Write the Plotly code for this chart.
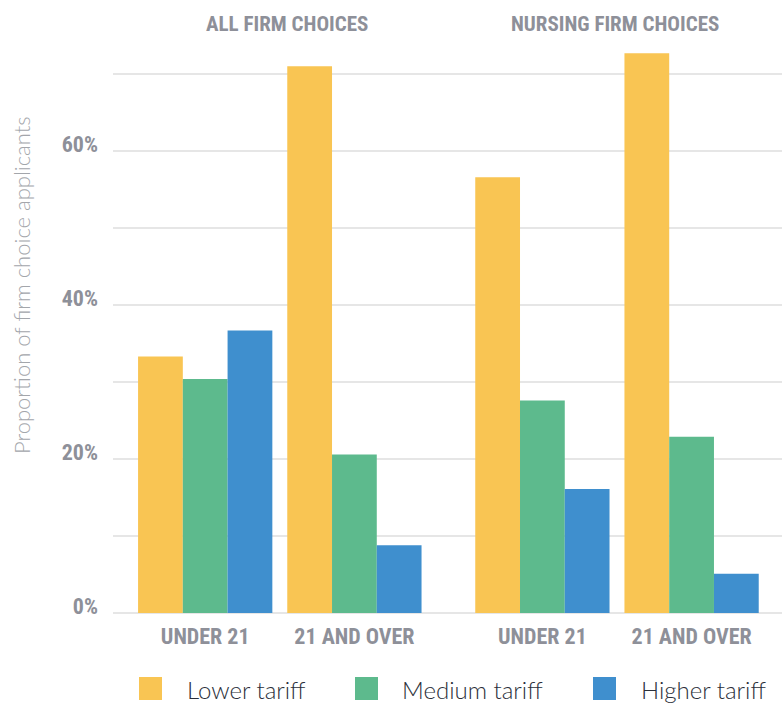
import plotly.graph_objects as go

# Data: share of firm-choice applicants by tariff group
panels = ["ALL FIRM CHOICES", "NURSING FIRM CHOICES"]
age_groups = ["UNDER 21", "21 AND OVER"]
series_names = ["Lower tariff", "Medium tariff", "Higher tariff"]
series_colors = ["#F9C553", "#5DBA8D", "#3F8FCE"]

# values ordered: [all<21, all21+, nursing<21, nursing21+]
lower_tariff = [33.3, 71.0, 56.6, 72.7]
medium_tariff = [30.4, 20.6, 27.6, 22.9]
higher_tariff = [36.7, 8.8, 16.1, 5.1]
series_values = [lower_tariff, medium_tariff, higher_tariff]

y_ticks = [0, 10, 20, 30, 40, 50, 60, 70]
y_tick_text = ["0%", "", "20%", "", "40%", "", "60%", ""]

# Layout geometry (pixels)
W, H = 782, 704
ML, MR, MT, MB = 113, 0, 50, 91
PW, PH = W - ML - MR, H - MT - MB
PANEL_GAP = 0.26  # extra spacing between the two panels, in category units

positions = []
labels = []
for p in range(len(panels)):
    for a, name in enumerate(age_groups):
        positions.append(p * (len(age_groups) + PANEL_GAP) + a)
        labels.append(name)

x_range = [-0.618, 3.866]

def px_x(px):
    return (px - ML) / PW

def px_y(py):
    return (H - MB - py) / PH

condensed = "Roboto Condensed, Open Sans Condensed, DejaVu Sans Condensed, sans-serif"
light = "Lato, Open Sans, sans-serif"
grey = "#8E9099"

fig = go.Figure()
for name, vals, color in zip(series_names, series_values, series_colors):
    fig.add_trace(go.Bar(
        x=positions, y=vals, name=name,
        marker=dict(color=color, line=dict(width=0)),
        showlegend=False,
        hovertemplate="%{y:.1f}%<extra>" + name + "</extra>",
    ))

annotations = []
# panel titles
for p, title in enumerate(panels):
    centre = (positions[2 * p] + positions[2 * p + 1]) / 2
    annotations.append(dict(
        x=centre, xref="x", y=px_y(24), yref="paper",
        text=title, showarrow=False,
        xanchor="center", yanchor="middle",
        xshift=7 if p == 0 else -2,
        font=dict(family=condensed, size=21, color=grey, weight="bold"),
    ))

# y-axis title
annotations.append(dict(
    x=px_x(21), xref="paper", y=px_y(285), yref="paper",
    text="Proportion of firm choice applicants", textangle=-90,
    showarrow=False, xanchor="center", yanchor="middle",
    font=dict(family=light, size=22, color="#A3A6AB", weight=300),
))

# legend: coloured squares with labels
shapes = []
legend_sq = [139, 355, 593]
legend_txt = [185, 400, 639]
for name, color, sx, tx in zip(series_names, series_colors, legend_sq, legend_txt):
    shapes.append(dict(
        type="rect", xref="paper", yref="paper",
        x0=px_x(sx), x1=px_x(sx + 23), y0=px_y(700), y1=px_y(677),
        fillcolor=color, line=dict(width=0), layer="above",
    ))
    annotations.append(dict(
        x=px_x(tx), xref="paper", y=px_y(689), yref="paper",
        text=name, showarrow=False, xanchor="left", yanchor="middle",
        font=dict(family=light, size=24, color="#2B2F3A", weight=300),
    ))

fig.update_layout(
    width=W, height=H,
    margin=dict(l=ML, r=MR, t=MT, b=MB, pad=0),
    paper_bgcolor="white", plot_bgcolor="white",
    barmode="group", bargap=0.1, bargroupgap=0,
    showlegend=False,
    annotations=annotations, shapes=shapes,
    xaxis=dict(
        range=x_range, tickmode="array", tickvals=positions, ticktext=labels,
        showgrid=False, zeroline=False, showline=False, ticks="",
        tickfont=dict(family=condensed, size=22, color=grey, weight="bold"),
        ticklabelstandoff=8,
    ),
    yaxis=dict(
        range=[0, PH / 7.7], tickmode="array", tickvals=y_ticks, ticktext=y_tick_text,
        showgrid=True, gridcolor="#E6E6E6", gridwidth=2,
        zeroline=True, zerolinecolor="#E6E6E6", zerolinewidth=2,
        showline=False, ticks="",
        tickfont=dict(family=condensed, size=22, color=grey, weight="bold"),
        ticklabelstandoff=14, ticklabelshift=-7,
    ),
)

fig.write_html("out.html")
